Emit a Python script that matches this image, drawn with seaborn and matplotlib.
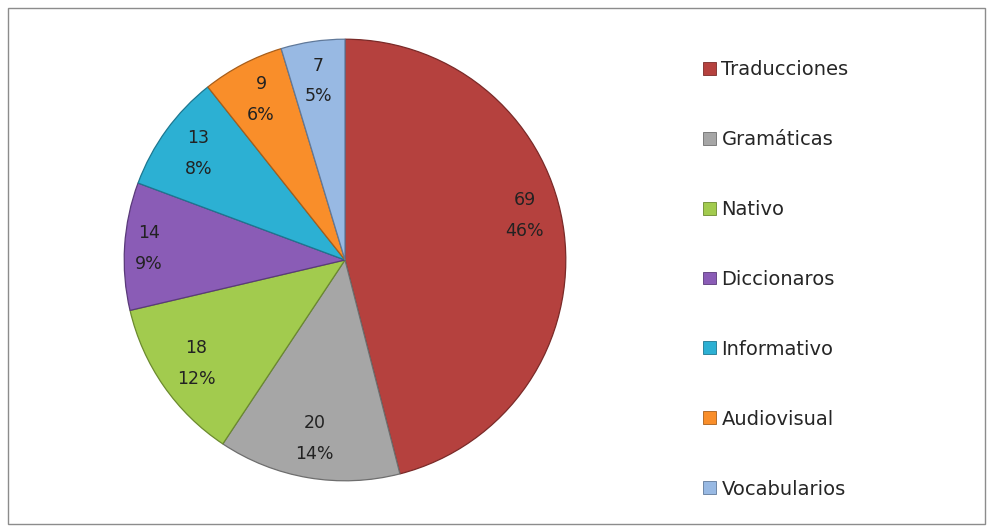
import matplotlib
matplotlib.use("Agg")
import matplotlib.pyplot as plt
import seaborn as sns
from matplotlib.patches import Patch, Rectangle

# data
categories = ["Traducciones", "Gramáticas", "Nativo", "Diccionaros",
              "Informativo", "Audiovisual", "Vocabularios"]
counts = [69, 20, 18, 14, 13, 9, 7]
percent_labels = ["46%", "14%", "12%", "9%", "8%", "6%", "5%"]

colors = sns.color_palette(["#B5413E", "#A6A6A6", "#A2CB4E", "#8A5CB6",
                            "#2CB0D3", "#F98E2A", "#98B9E3"])
edges = ["#7A2A28", "#6E6E6E", "#6B8A2E", "#5A3A7A",
         "#1D7790", "#A85E1A", "#60799A"]

sns.set_theme(style="white")
plt.rcParams["font.family"] = ["DejaVu Sans"]

fig = plt.figure(figsize=(9.93, 5.31), dpi=100)
fig.patch.set_facecolor("white")

# pie axes: centre ~(345, 260) px, radius ~223 px
ax = fig.add_axes([122 / 993, 48 / 531, 446 / 993, 446 / 531])
labels = [f"{c}\n{p}" for c, p in zip(counts, percent_labels)]
wedges, texts = ax.pie(counts, colors=colors, startangle=90, counterclock=False,
                       labels=labels, labeldistance=0.82,
                       wedgeprops=dict(linewidth=0.9),
                       textprops=dict(fontsize=12.5, color="#222222",
                                      ha="center", va="center",
                                      linespacing=1.9))
for w, e in zip(wedges, edges):
    w.set_edgecolor(e)
# the big slice's label sits a little higher in the original
x, y = texts[0].get_position()
texts[0].set_position((x, y + 0.1))
x, y = texts[3].get_position()
texts[3].set_position((x - 0.07, y))

ax.set_xlim(-1.01, 1.01)
ax.set_ylim(-1.01, 1.01)
ax.set_aspect("auto")
ax.axis("off")

handles = [Patch(facecolor=c, edgecolor=e, linewidth=0.6) for c, e in zip(colors, edges)]
fig.legend(handles, categories, loc="upper left",
           bbox_to_anchor=(703 / 993, 1 - 60 / 531),
           frameon=False, fontsize=14, handlelength=0.65, handleheight=0.65,
           handletextpad=0.3, labelspacing=2.62, borderpad=0, borderaxespad=0)

# outer frame
fig.patches.append(Rectangle((8 / 993, 7 / 531), 977 / 993, 516 / 531,
                             transform=fig.transFigure, fill=False,
                             edgecolor="#8C8C8C", linewidth=1.0))

fig.savefig("out.png", dpi=100)
